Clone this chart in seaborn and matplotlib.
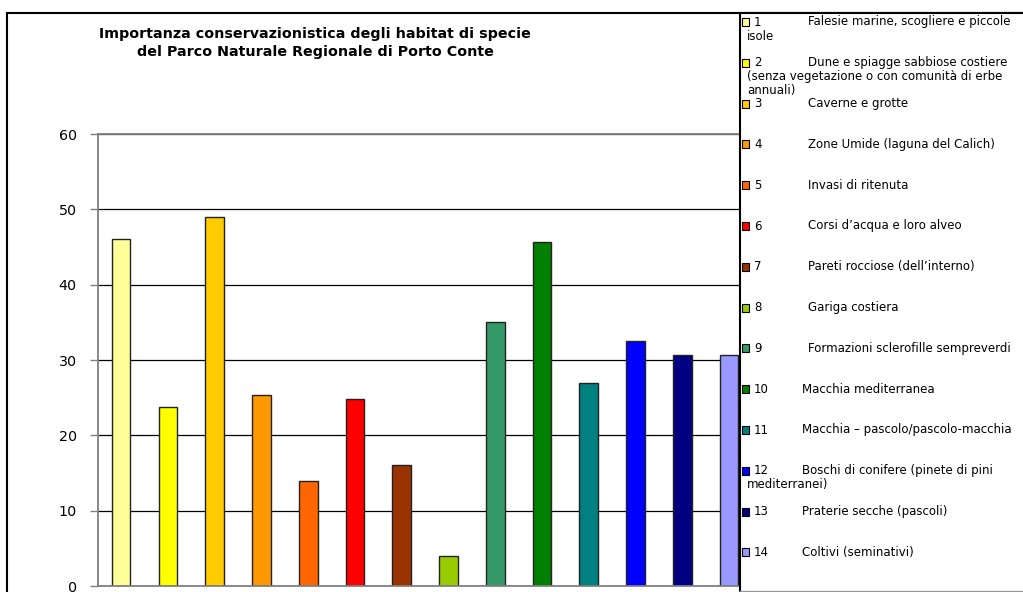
import matplotlib
matplotlib.use("Agg")
import matplotlib.pyplot as plt
from matplotlib.patches import Rectangle
from matplotlib.lines import Line2D
import seaborn as sns
import pandas as pd

# ---- data ----
codes = ["1", "2", "3", "4", "5", "6", "7", "8", "9", "10", "11", "12", "13", "14"]
values = [46, 23.8, 49, 25.3, 14, 24.8, 16, 4, 35, 45.6, 27, 32.5, 30.7, 30.7]
colors = ["#FFFF99", "#FFFF00", "#FFCC00", "#FF9900", "#FF6600", "#FF0000", "#993300",
          "#99CC00", "#339966", "#008000", "#008080", "#0000FF", "#000080", "#9999FF"]
legend_lines = [
    ["Falesie marine, scogliere e piccole", "isole"],
    ["Dune e spiagge sabbiose costiere", "(senza vegetazione o con comunità di erbe", "annuali)"],
    ["Caverne e grotte"],
    ["Zone Umide (laguna del Calich)"],
    ["Invasi di ritenuta"],
    ["Corsi d’acqua e loro alveo"],
    ["Pareti rocciose (dell’interno)"],
    ["Gariga costiera"],
    ["Formazioni sclerofille sempreverdi"],
    ["Macchia mediterranea"],
    ["Macchia – pascolo/pascolo-macchia"],
    ["Boschi di conifere (pinete di pini", "mediterranei)"],
    ["Praterie secche (pascoli)"],
    ["Coltivi (seminativi)"],
]
yticks = [0, 10, 20, 30, 40, 50, 60]
title = "Importanza conservazionistica degli habitat di specie\ndel Parco Naturale Regionale di Porto Conte"

sns.set_theme(style="white")
plt.rcParams["font.family"] = ["DejaVu Sans"]
plt.rcParams["text.color"] = "black"
plt.rcParams["ytick.color"] = "black"
plt.rcParams["xtick.color"] = "black"

W, H = 1023, 592
fig = plt.figure(figsize=(W / 100, H / 100), dpi=100)

def fx(px):
    return px / W

def fy(py):
    return 1 - py / H

ax_left, ax_right, ax_top, ax_bottom = 97.7, 752.5, 134, 586
ax = fig.add_axes([fx(ax_left), fy(ax_bottom), fx(ax_right - ax_left), (ax_bottom - ax_top) / H])

df = pd.DataFrame({"code": codes, "value": values})
sns.barplot(data=df, x="code", y="value", hue="code", palette=colors, legend=False,
            saturation=1, width=0.4, edgecolor="#222222", linewidth=1.0, ax=ax, order=codes)

ax.set_xlim(-0.5, len(codes) - 0.5)
ax.set_ylim(0, 60)
ax.set_yticks(yticks)
ax.set_yticklabels([str(t) for t in yticks], fontsize=10.3, color="black")
ax.set_xticks([])
ax.set_xlabel("")
ax.set_ylabel("")
ax.yaxis.grid(True, color="black", linewidth=0.9)
ax.set_axisbelow(True)
ax.tick_params(axis="y", which="major", length=6, width=1, color="#808080", left=True,
               pad=9, labelcolor="black")
for side in ["left", "top", "bottom"]:
    ax.spines[side].set_visible(True)
    ax.spines[side].set_color("#808080")
    ax.spines[side].set_linewidth(1.3)
ax.spines["right"].set_visible(False)

# title
fig.text(fx(315), fy(43), title, ha="center", va="center", fontsize=10.3,
         fontweight="bold", linespacing=1.45, color="black")

# outer chart border
fig.add_artist(Line2D([fx(7), fx(7)], [fy(13), fy(H + 5)], color="black", lw=1.5))
fig.add_artist(Line2D([fx(7), fx(W + 5)], [fy(13), fy(13)], color="black", lw=1.5))

# legend box
leg_left = 740
fig.add_artist(Rectangle((fx(leg_left), fy(591)), fx(W + 10 - leg_left), fy(13) - fy(591),
                         facecolor="white", edgecolor="none", zorder=10))
fig.add_artist(Line2D([fx(leg_left), fx(leg_left)], [fy(13), fy(591)], color="black", lw=1.5, zorder=11))
fig.add_artist(Line2D([fx(leg_left), fx(W + 5)], [fy(591), fy(591)], color="#999999", lw=1.0, zorder=11))
fig.add_artist(Line2D([fx(leg_left), fx(W + 5)], [fy(13), fy(13)], color="black", lw=1.5, zorder=11))

fs = 8.5
for i, (code, col, lines) in enumerate(zip(codes, colors, legend_lines)):
    y = 22 + i * 40.8
    fig.add_artist(Rectangle((fx(741.5), fy(y + 4)), fx(7.5), fy(y - 4) - fy(y + 4),
                             facecolor=col, edgecolor="black", lw=0.8, zorder=12))
    fig.text(fx(754), fy(y), code, ha="left", va="center", fontsize=fs, zorder=12, color="black")
    tx = 808 if i < 9 else 802
    fig.text(fx(tx), fy(y), lines[0], ha="left", va="center", fontsize=fs, zorder=12, color="black")
    for j, extra in enumerate(lines[1:]):
        fig.text(fx(747), fy(y + 14 * (j + 1)), extra, ha="left", va="center",
                 fontsize=fs, zorder=12, color="black")

fig.savefig("out.png", dpi=100)
